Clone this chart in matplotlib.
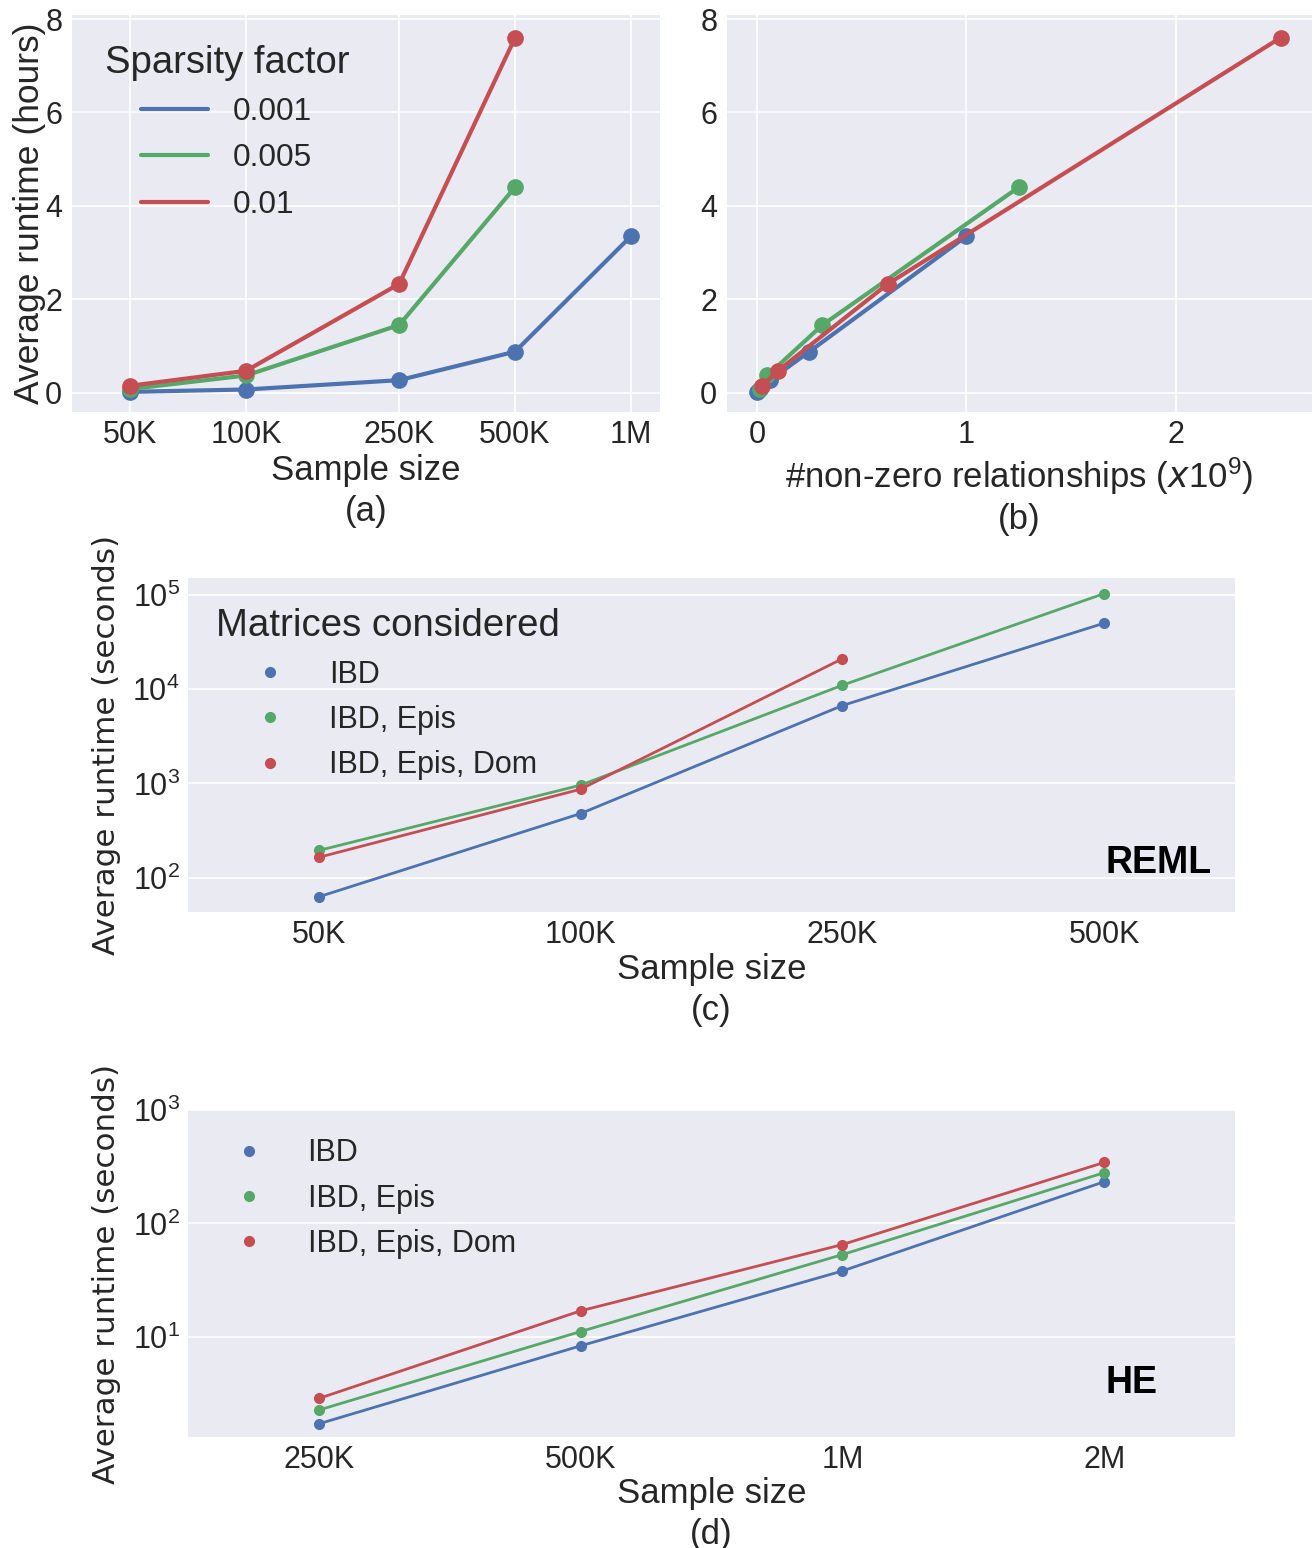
# Runtime scaling figure: sparsity panels (a, b) and REML / HE panels (c, d)
import matplotlib
matplotlib.use("Agg")
import matplotlib.pyplot as plt

# ---- data ----
# (a) runtime in hours vs sample size, one series per sparsity factor
sizes_a = [50e3, 100e3, 250e3, 500e3, 1e6]
size_labels_a = ["50K", "100K", "250K", "500K", "1M"]
sparsity_labels = ["0.001", "0.005", "0.01"]
hours_001 = [0.02, 0.07, 0.27, 0.88, 3.35]
hours_005 = [0.08, 0.37, 1.45, 4.40]
hours_01 = [0.15, 0.47, 2.33, 7.60]

# (b) same runtimes vs number of non-zero relationships (x1e9)
nonzero_001 = [0.0025, 0.01, 0.0625, 0.25, 1.0]
nonzero_005 = [0.0125, 0.05, 0.3125, 1.25]
nonzero_01 = [0.025, 0.1, 0.625, 2.5]

# (c) REML runtime in seconds
reml_sizes = ["50K", "100K", "250K", "500K"]
matrix_labels = ["IBD", "IBD, Epis", "IBD, Epis, Dom"]
reml_ibd = [63, 480, 6700, 50000]
reml_epis = [195, 960, 11000, 103000]
reml_dom = [165, 870, 21000]

# (d) HE runtime in seconds
he_sizes = ["250K", "500K", "1M", "2M"]
he_ibd = [1.7, 8.3, 38, 233]
he_epis = [2.25, 11.1, 53, 280]
he_dom = [2.85, 16.9, 65, 345]

colors = ["#4C72B0", "#55A868", "#C44E52"]
text_color = "#262626"

plt.style.use("seaborn-v0_8-darkgrid")
plt.rcParams["font.family"] = ["Liberation Sans", "DejaVu Sans"]
plt.rcParams["text.color"] = text_color
plt.rcParams["axes.labelcolor"] = text_color
plt.rcParams["xtick.color"] = text_color
plt.rcParams["ytick.color"] = text_color
plt.rcParams["grid.linewidth"] = 1.2

fig = plt.figure(figsize=(13.16, 15.48), dpi=100)

ax_a = fig.add_axes([0.0547, 0.7339, 0.4468, 0.2565])
ax_b = fig.add_axes([0.5524, 0.7339, 0.4445, 0.2565])
ax_c = fig.add_axes([0.1429, 0.4109, 0.7956, 0.2158])
ax_d = fig.add_axes([0.1429, 0.0717, 0.7956, 0.2112])

# ---- (a) ----
hours_a = [hours_001, hours_005, hours_01]
for vals, lab, col in zip(hours_a, sparsity_labels, colors):
    ax_a.plot(sizes_a[:len(vals)], vals, color=col, lw=3, label=lab)
    ax_a.plot(sizes_a[:len(vals)], vals, "o", color=col, ms=11)
ax_a.set_xscale("log")
ax_a.set_xticks(sizes_a)
ax_a.set_xticklabels(size_labels_a)
ax_a.minorticks_off()
ax_a.set_xlim(35300, 1.19e6)
ax_a.set_ylim(-0.41, 8.09)
ax_a.set_yticks([0, 2, 4, 6, 8])
ax_a.tick_params(labelsize=22, pad=6)
ax_a.tick_params(axis="y", pad=7)
ax_a.set_ylabel("Average runtime (hours)", fontsize=25.5)
ax_a.yaxis.set_label_coords(-0.044, 0.5)
ax_a.set_xlabel("Sample size\n(a)", fontsize=25, linespacing=1.3)
ax_a.xaxis.set_label_coords(0.5, -0.107)
ax_a.legend(title="Sparsity factor", loc="upper left", bbox_to_anchor=(0.034, 0.955),
            frameon=False, fontsize=22.7, title_fontsize=27.5, handlelength=2.1,
            handletextpad=0.8, labelspacing=0.51, borderaxespad=0)

# ---- (b) ----
nonzero_b = [nonzero_001, nonzero_005, nonzero_01]
for xs, vals, col in zip(nonzero_b, hours_a, colors):
    ax_b.plot(xs, vals, color=col, lw=3)
    ax_b.plot(xs, vals, "o", color=col, ms=11)
ax_b.set_xlim(-0.143, 2.65)
ax_b.set_ylim(-0.41, 8.09)
ax_b.set_xticks([0, 1, 2])
ax_b.set_yticks([0, 2, 4, 6, 8])
ax_b.tick_params(labelsize=22, pad=6)
ax_b.tick_params(axis="y", pad=7)
ax_b.set_xlabel("#non-zero relationships ($\\mathit{x}\\mathregular{10^{9}}$)\n(b)",
                fontsize=25, linespacing=1.25)
ax_b.xaxis.set_label_coords(0.5, -0.109)

# ---- (c) ----
reml_vals = [reml_ibd, reml_epis, reml_dom]
for vals, lab, col in zip(reml_vals, matrix_labels, colors):
    xs = list(range(len(vals)))
    ax_c.plot(xs, vals, color=col, lw=2)
    ax_c.plot(xs, vals, "o", color=col, ms=7, label=lab)
ax_c.set_yscale("log")
ax_c.set_xticks(range(len(reml_sizes)))
ax_c.set_xticklabels(reml_sizes)
ax_c.set_xlim(-0.5, 3.5)
ax_c.set_ylim(43.5, 151000)
ax_c.minorticks_off()
ax_c.grid(False, axis="x")
ax_c.tick_params(labelsize=22, pad=6)
ax_c.set_ylabel("Average runtime (seconds)", fontsize=22.3, family="DejaVu Sans")
ax_c.yaxis.set_label_coords(-0.064, 0.5)
ax_c.set_xlabel("Sample size\n(c)", fontsize=25, linespacing=1.3)
ax_c.xaxis.set_label_coords(0.5, -0.123)
ax_c.legend(title="Matrices considered", loc="upper left", bbox_to_anchor=(0.0152, 0.945),
            frameon=False, fontsize=22, title_fontsize=27.6, handletextpad=0.93,
            labelspacing=0.5, borderaxespad=0)
ax_c.text(0.978, 0.147, "REML", transform=ax_c.transAxes, ha="right", va="center",
          fontsize=27, fontweight="bold", color="black")

# ---- (d) ----
he_vals = [he_ibd, he_epis, he_dom]
for vals, lab, col in zip(he_vals, matrix_labels, colors):
    xs = list(range(len(vals)))
    ax_d.plot(xs, vals, color=col, lw=2)
    ax_d.plot(xs, vals, "o", color=col, ms=7, label=lab)
ax_d.set_yscale("log")
ax_d.set_xticks(range(len(he_sizes)))
ax_d.set_xticklabels(he_sizes)
ax_d.set_xlim(-0.5, 3.5)
ax_d.set_ylim(1.3, 1000)
ax_d.minorticks_off()
ax_d.grid(False, axis="x")
ax_d.tick_params(labelsize=22, pad=6)
ax_d.set_ylabel("Average runtime (seconds)", fontsize=22.3, family="DejaVu Sans")
ax_d.yaxis.set_label_coords(-0.064, 0.5)
ax_d.set_xlabel("Sample size\n(d)", fontsize=25, linespacing=1.3)
ax_d.xaxis.set_label_coords(0.5, -0.122)
ax_d.legend(loc="upper left", bbox_to_anchor=(0.017, 0.951), frameon=False, fontsize=22,
            handletextpad=0.93, labelspacing=0.5, borderaxespad=0)
ax_d.text(0.9255, 0.165, "HE", transform=ax_d.transAxes, ha="right", va="center",
          fontsize=27, fontweight="bold", color="black")

fig.savefig("out.png", dpi=100)
